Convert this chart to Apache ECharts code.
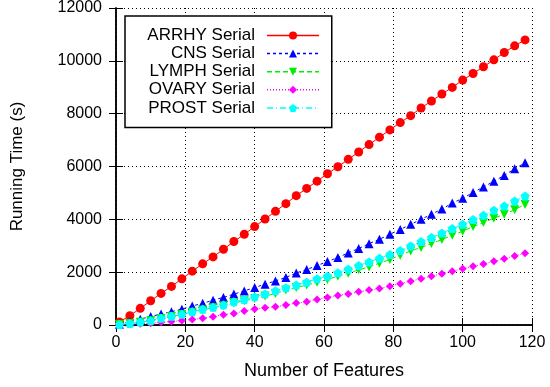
<!DOCTYPE html>
<html>
<head>
<meta charset="utf-8">
<script src="https://cdn.jsdelivr.net/npm/echarts@6/dist/echarts.min.js"></script>
<style>html,body{margin:0;padding:0;background:#fff}#c{width:550px;height:387px}</style>
</head>
<body>
<div id="c"></div>
<script>
const features = [1,4,7,10,13,16,19,22,25,28,31,34,37,40,43,46,49,52,55,58,61,64,67,70,73,76,79,82,85,88,91,94,97,100,103,106,109,112,115,118];
const arrhy = [113,351,630,917,1196,1461,1747,2038,2314,2578,2868,3159,3434,3725,4012,4302,4593,4895,5170,5446,5725,5990,6270,6550,6830,7110,7386,7661,7925,8216,8480,8744,8993,9272,9522,9774,10038,10314,10567,10792];
const cns = [30,120,220,320,415,505,600,720,820,940,1045,1170,1290,1420,1545,1670,1800,1970,2100,2250,2400,2555,2730,2895,3080,3245,3435,3615,3810,4000,4190,4390,4615,4795,5020,5220,5445,5660,5915,6140];
const lymph = [15,55,105,160,245,320,395,485,570,650,730,830,920,1000,1094,1196,1321,1423,1510,1620,1723,1849,1962,2087,2200,2340,2479,2645,2804,2932,3083,3234,3397,3548,3725,3876,4045,4189,4366,4566];
const ovary = [8,25,45,70,100,130,170,210,252,315,390,440,528,604,653,692,755,830,880,970,1045,1120,1170,1257,1321,1380,1470,1565,1660,1755,1850,1940,2035,2130,2220,2310,2410,2510,2610,2715];
const prost = [15,60,110,163,253,328,404,502,592,668,755,880,970,1068,1170,1294,1408,1510,1623,1747,1849,1974,2113,2253,2389,2528,2668,2820,2993,3159,3310,3484,3649,3812,3989,4151,4340,4502,4691,4880];
const seriesNames = ['ARRHY Serial','CNS Serial','LYMPH Serial','OVARY Serial','PROST Serial'];
const xTicks = [0,20,40,60,80,100,120];
const yTicks = [0,2000,4000,6000,8000,10000,12000];

const FONT = 'Liberation Sans';
const pair = arr => features.map((f,i)=>[f,arr[i]]);
const pentagon = 'path://M0,-10L9.51,-3.09L5.88,8.09L-5.88,8.09L-9.51,-3.09Z';
const invTri = 'path://M-10,-8L10,-8L0,10Z';
const colors = ['#ff0000','#0000ff','#00ee00','#ff00ff','#00ffff'];
const dashes = ['solid',[3,3],[5,3],[1,2],[6,3,1,3]];
const symbols = ['circle','triangle',invTri,'diamond',pentagon];
const sizes = [9,9,9,8,9];
const values = [arrhy, cns, lymph, ovary, prost];

const chart = echarts.init(document.getElementById('c'), null, {renderer:'canvas'});
const axCommon = {
  axisLine:{show:true, lineStyle:{color:'#000', width:1.5}},
  axisTick:{show:true, inside:true, length:7, lineStyle:{color:'#000', width:1}},
};
chart.setOption({
  animation:false,
  backgroundColor:'#fff',
  grid:{left:116, right:18, top:7, bottom:62, containLabel:false},
  legend:{
    orient:'vertical', left:125, top:16,
    padding:[11,12,11,12],
    align:'right',
    backgroundColor:'#fff', borderColor:'#000', borderWidth:1.5, borderRadius:0,
    itemWidth:52, itemHeight:10, itemGap:1.1,
    data: seriesNames.map((n,i)=>({name:n, lineStyle:{color:colors[i], width:1.5, type:dashes[i]}, itemStyle:{color:colors[i]}})),
    textStyle:{fontFamily:FONT, fontSize:17, color:'#000', width:118, align:'right', lineHeight:14, padding:[0,7,0,0]}
  },
  xAxis:[
    Object.assign({type:'value', min:xTicks[0], max:xTicks[xTicks.length-1], interval:xTicks[1]-xTicks[0],
      name:'Number of Features', nameLocation:'middle', nameGap:37,
      nameTextStyle:{fontFamily:FONT, fontSize:18, color:'#000'},
      axisLabel:{fontFamily:FONT, fontSize:16, color:'#000', margin:10},
      splitLine:{show:true, lineStyle:{color:'#000', width:1, type:[1,3]}}
    }, axCommon),
    Object.assign({type:'value', position:'top', min:xTicks[0], max:xTicks[xTicks.length-1], interval:xTicks[1]-xTicks[0],
      axisLabel:{show:false}, splitLine:{show:false}}, axCommon)
  ],
  yAxis:[
    Object.assign({type:'value', min:yTicks[0], max:yTicks[yTicks.length-1], interval:yTicks[1]-yTicks[0],
      name:'Running Time (s)', nameLocation:'middle', nameGap:90,
      nameTextStyle:{fontFamily:FONT, fontSize:17, color:'#000'},
      axisLabel:{fontFamily:FONT, fontSize:16, color:'#000', margin:14, formatter: v => String(v)},
      splitLine:{show:true, lineStyle:{color:'#000', width:1, type:[1,3]}}
    }, axCommon),
    Object.assign({type:'value', position:'right', min:yTicks[0], max:yTicks[yTicks.length-1], interval:yTicks[1]-yTicks[0],
      axisLabel:{show:false}, splitLine:{show:false}}, axCommon)
  ],
  series: seriesNames.map((n,i)=>({
    name:n, type:'line', data: pair(values[i]),
    symbol: symbols[i], symbolSize: sizes[i],
    lineStyle:{color:colors[i], width:1, type:dashes[i]},
    itemStyle:{color:colors[i]},
    animation:false
  }))
});
</script>
</body>
</html>
